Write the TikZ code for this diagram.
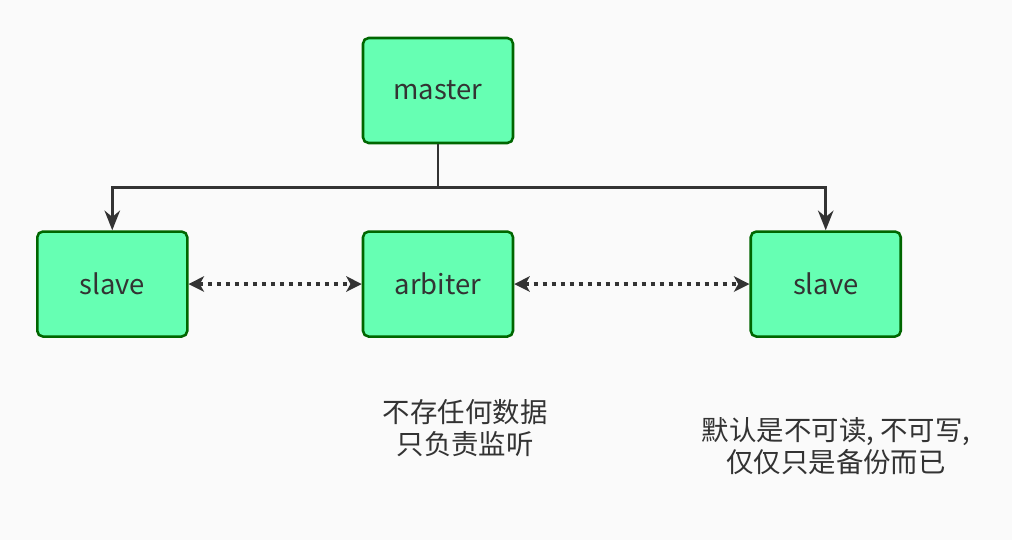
\documentclass[tikz,border=0pt]{standalone}
\usepackage{fontspec}
\setmainfont{Noto Sans CJK SC}
\usepackage{tikz}
\usetikzlibrary{arrows.meta,positioning,backgrounds,calc}
\definecolor{caja}{HTML}{66FFB3}
\definecolor{borde}{HTML}{006600}
\definecolor{texto}{HTML}{333333}
\tikzstyle{nodo}=[rectangle,rounded corners=4pt,draw=borde,line width=1.8pt,fill=caja,minimum width=3.75cm,minimum height=2.625cm,text=texto,font=\fontsize{19.5}{22}\selectfont]
\tikzstyle{linea}=[draw=texto,line width=2pt]
\tikzstyle{punteado}=[draw=texto,line width=2.6pt,dash pattern=on 3.2pt off 3.2pt,{Stealth[length=11pt,width=11pt,inset=3pt]}-{Stealth[length=11pt,width=11pt,inset=3pt]}]
\tikzstyle{nota}=[align=center,text=texto,font=\fontsize{19.5}{23}\selectfont]

\begin{document}
\begin{tikzpicture}
	\begin{scope}[node distance=2.15cm]
		\node[nodo]	(master)	at (10.95,-2.2625)	{master};
		\node[nodo]	(arbiter)	[below=of master]	{arbiter};
		\node[nodo]	(slave1)	[left=4.33cm of arbiter]	{slave};
		\node[nodo]	(slave2)	[right=5.88cm of arbiter]	{slave};
		\coordinate	(rama)	at ($(master.south)+(0,-1.075)$);
		\draw[linea]	(master) -- (rama);
		\draw[linea,-{Stealth[length=14pt,width=11pt]}]	(rama) -| (slave1);
		\draw[linea,-{Stealth[length=14pt,width=11pt]}]	(rama) -| (slave2);
		\draw[punteado]	(slave1) -- (arbiter);
		\draw[punteado]	(arbiter) -- (slave2);
	\end{scope}

	\node[nota]	(nota1)	at (11.63,-10.7)	{不存任何数据\\只负责监听};
	\node[nota]	(nota2)	at (20.9,-11.15)	{默认是不可读, 不可写,\\仅仅只是备份而已};

	\begin{scope}[on background layer]
		\fill[black!2]	(0,0) rectangle (25.3,-13.5);
	\end{scope}
	\useasboundingbox (0,0) rectangle (25.3,-13.5);
\end{tikzpicture}
\end{document}
